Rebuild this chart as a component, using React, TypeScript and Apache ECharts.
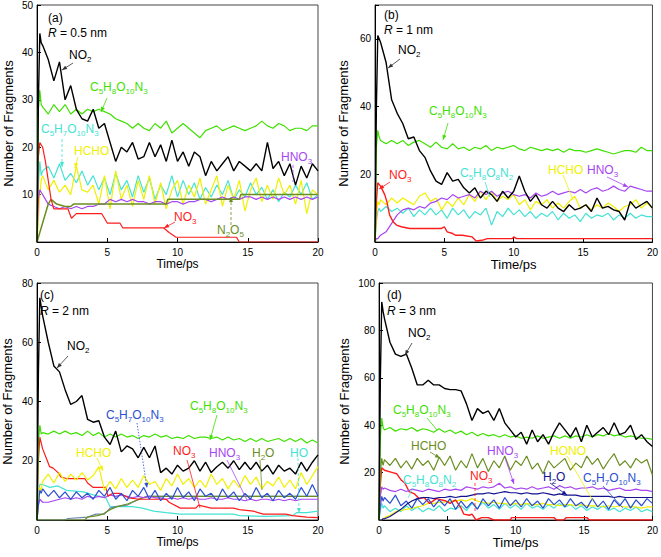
import React, { useEffect, useRef } from 'react';
import * as echarts from 'echarts';

const FF = '"Liberation Sans", Arial, sans-serif';

// shared time grid (ps)
const T = [0, 0.1, 0.2, 0.3, 0.4, 0.8, 1.2, 1.6, 2.0, 2.4, 2.8, 3.2, 3.6, 4.0, 4.4, 4.8, 5.2, 5.6, 6.0, 6.4, 6.8, 7.2, 7.6, 8.0, 8.4, 8.8, 9.2, 9.6, 10.0, 10.4, 10.8, 11.2, 11.6, 12.0, 12.4, 12.8, 13.2, 13.6, 14.0, 14.4, 14.8, 15.2, 15.6, 16.0, 16.4, 16.8, 17.2, 17.6, 18.0, 18.4, 18.8, 19.2, 19.6, 20.0];

const xTicks = [0, 5, 10, 15, 20];

// ---- (a) R = 0.5 nm ----
const a_NO2 = [0, 30, 44, 42, 41.5, 38.5, 34, 38, 30, 33, 28, 26, 25.5, 28, 24, 25, 21, 17, 20, 19, 21, 17.5, 18, 21, 18, 20.5, 17, 21.5, 17, 19, 16, 19, 18, 14, 17, 15, 16.5, 18, 15, 17, 16, 15, 16.5, 15, 21, 15.5, 17, 14, 16.5, 12, 16, 13.5, 16.5, 15];
const a_C5H8O10N3 = [0, 28, 32, 29, 28.5, 27, 29, 27.5, 29, 27, 28, 27, 28, 27.5, 28, 27.5, 27, 26, 25.5, 25, 24, 25, 24, 23.5, 25, 24, 25.5, 23, 24, 25, 24, 23, 22, 23.5, 24, 24.5, 23.5, 24, 24.5, 24, 23.5, 24, 24.5, 25.5, 24.5, 24, 25, 24.5, 23.5, 24, 24, 23.5, 24.5, 24.5];
const a_C5H7O10N3 = [0, 12, 17, 14, 15, 16, 13.5, 16.5, 13, 14.5, 12.5, 15, 12, 14, 11, 13.5, 10, 14.5, 11, 13, 9.5, 14, 10.5, 13.5, 9, 12, 10, 14, 9.5, 13, 10, 12.5, 9, 11.5, 9.5, 12, 10, 13, 9, 11, 9.5, 12.5, 10, 11.5, 9, 11, 8.5, 10.5, 9.5, 12, 10, 12.5, 9, 10];
const a_HCHO = [0, 5, 10, 13, 14, 11, 13, 10.5, 12, 10, 16, 11, 10.5, 12, 8, 14, 7, 15, 9, 12, 7.5, 13, 9, 14, 8, 12.5, 7, 11, 13, 8, 12, 9.5, 13.5, 8, 11, 14, 7.5, 12, 9, 13, 6.5, 11, 13.5, 8.5, 12, 9, 13.5, 10, 12, 8, 13, 6, 11, 10];
const a_HNO3 = [0, 9, 11, 10.5, 10, 8, 7.5, 7, 7.5, 7, 7.5, 7, 7.5, 7.5, 8, 8, 9, 8.5, 9, 8.5, 9, 8.5, 8.5, 8, 8.5, 8.5, 8, 8.5, 8.5, 8, 8.5, 8.5, 9, 9, 8.5, 9, 9.5, 9, 9.5, 9, 9.5, 9.5, 9, 9.5, 9, 9.5, 9, 9.5, 9, 9.5, 9, 9.5, 9, 9.5];
const a_NO3 = [[0, 0], [0.1, 18], [0.2, 21], [0.4, 20], [0.6, 17], [0.8, 13], [1.0, 9], [1.2, 7], [2.2, 7], [2.45, 5], [2.8, 6], [4.6, 6], [5.0, 4], [5.9, 4], [6.1, 3], [9.0, 3], [9.4, 2], [9.9, 1], [14.2, 1], [14.4, 0], [20, 0]];
const a_N2O5 = [[0, 0], [0.2, 2], [0.5, 5], [0.8, 8], [1.0, 9], [1.4, 8], [2.0, 7.5], [2.4, 7.5], [2.6, 8], [9.2, 8], [9.3, 9], [14.4, 9], [14.5, 10], [20, 10]];

// ---- (b) R = 1 nm ----
const b_NO2 = [0, 40, 61, 60, 59, 53, 42, 38, 35, 30.5, 31, 27, 25, 21, 18, 17, 20.5, 18, 18.5, 16, 14.5, 16, 13, 15, 14, 12, 15, 13, 15, 19.5, 15, 12, 14, 11, 10, 12, 10, 9, 11, 9.5, 10, 11, 9, 13, 10, 10.5, 9.5, 9, 6.5, 12, 10, 11, 12, 10];
const b_C5H8O10N3 = [0, 28, 33, 31, 30, 29, 30, 29, 30, 28.5, 29.5, 30, 29, 28, 29.5, 28, 27.5, 29, 27.5, 28, 27, 28, 27.5, 28.5, 27, 28, 27.5, 28, 28.5, 27.5, 27, 28, 27.5, 27, 27.5, 27, 27.5, 26.5, 27.5, 27, 27, 26.5, 27, 27.5, 27, 26.5, 26, 26.5, 27, 27, 26.5, 28, 27, 27];
const b_C5H8O8N2 = [0, 6, 9, 10, 9, 10.5, 9, 10, 8.5, 10, 7.5, 9.5, 8, 10, 8, 9.5, 7, 10, 8, 9.5, 7, 9, 8, 10, 5, 9, 7.5, 10, 8, 9.5, 7.5, 9, 7, 8.5, 7.5, 9, 6.5, 8.5, 7, 8, 6, 8.5, 7, 8, 7.5, 8.5, 6.5, 8, 7, 8.5, 7, 8, 7.5, 7.5];
const b_HCHO = [0, 8, 12, 11, 12.5, 11, 13, 11.5, 13, 12, 11, 13.5, 14.5, 12, 13, 9.5, 12, 10.5, 13, 11, 14, 12, 15, 12.5, 15, 12, 13.5, 12.5, 14, 11, 12.5, 9.5, 12, 11, 12.5, 10, 11.5, 10, 12, 13.5, 10, 11, 9.5, 11, 10, 11.5, 10.5, 9, 10.5, 11, 12.5, 10, 11.5, 10];
const b_HNO3 = [0, 1, 1, 1.5, 2, 3, 5.5, 8, 9.5, 10, 9.5, 10.5, 10, 11.5, 12, 13, 12.5, 14, 13, 13.5, 14, 13, 15, 14, 15, 13.5, 14.5, 15, 14, 13.5, 14, 13, 14.5, 13.5, 14, 15, 14, 14.5, 15, 14.5, 15.5, 14.5, 15.5, 16, 15, 15.5, 16.5, 15.5, 15, 16.5, 16, 15.5, 15, 15];
const b_NO3 = [[0, 0], [0.1, 12], [0.2, 17.5], [0.4, 16.5], [0.7, 14], [0.85, 12], [1.05, 8], [1.3, 6], [1.55, 5], [1.9, 4.5], [2.5, 4], [4.8, 4], [5.0, 4.5], [5.2, 3], [5.6, 2.5], [5.8, 2], [6.3, 2], [7.0, 1.5], [7.3, 0.3], [7.7, 0.5], [8.1, 1], [9.9, 1], [10.0, 1.5], [10.2, 1], [20, 1]];

// ---- (c) R = 2 nm ----
const c_NO2 = [0, 50, 75, 72, 69, 60, 52, 50, 44, 39, 40, 42, 34, 33, 33.5, 28, 25.5, 30, 23, 25, 24, 21, 24.5, 21, 25, 16, 17.5, 15.5, 18.5, 16.5, 17.5, 20, 16.5, 19.5, 16, 18, 19.5, 17.5, 20, 17, 19.5, 17, 19.5, 16.5, 18.5, 15.5, 18.5, 16.5, 17.5, 15.5, 19.5, 16.5, 19.5, 22];
const c_C5H8O10N3 = [0, 26, 32, 29, 29.5, 29, 30, 29, 30, 29, 29.5, 28.5, 30, 28.5, 29.5, 28, 29, 28, 29, 28, 28.5, 27.5, 28.5, 28, 29, 28, 28.5, 27.5, 28, 27.5, 28.5, 27.5, 28, 28, 27.5, 28, 27, 28, 27, 27.5, 26.5, 27.5, 26.5, 27.5, 26.5, 27, 27.5, 26.5, 27.5, 26.5, 27.5, 26, 27, 26];
const c_HCHO = [0, 6, 11, 10, 13, 15.5, 12.5, 16, 13, 15.5, 13.5, 16, 13.5, 15, 18, 10, 13, 10.5, 14, 11, 13.5, 11, 15, 12, 13, 10, 14, 11.5, 15.5, 12, 14, 11, 13.5, 11, 15.5, 12, 14, 10.5, 13.5, 11, 15, 12, 14.5, 10.5, 13, 11.5, 14.5, 11, 13.5, 10.5, 16, 12, 15, 18];
const c_C5H7O10N3 = [0, 5, 10, 9, 10.5, 8, 10, 7.5, 9.5, 7, 9.5, 7.5, 9, 7, 10, 8, 11, 7, 9, 6.5, 10, 8, 11, 7, 10, 6.5, 9, 7, 11, 7.5, 9.5, 6.5, 10.5, 8, 9, 6.5, 10.5, 7.5, 9.5, 6.5, 9, 7, 11, 7.5, 9, 6.5, 10, 7.5, 9, 7, 11, 8, 12, 8];
const c_HNO3 = [0, 5, 7, 6.5, 6, 6, 6.5, 7, 7.5, 7, 7.5, 7, 8, 7.5, 8, 7.5, 8.5, 8, 8.5, 8, 7.5, 8, 7.5, 8, 7.5, 7.5, 7, 7.5, 7, 7.5, 7, 7.5, 7, 7, 7.5, 7, 7, 7.5, 7, 7, 6.5, 7, 6.5, 7, 7, 6.5, 7, 6.5, 7, 6.5, 7, 7, 7, 7];
const c_NO3 = [[0, 0], [0.1, 20], [0.2, 28], [0.4, 24], [0.65, 21], [0.9, 18], [1.15, 17.5], [1.5, 16], [1.7, 14.5], [2.1, 14], [3.4, 14], [3.6, 12.5], [4.0, 11], [4.9, 11], [5.05, 8], [5.4, 9], [5.9, 9], [6.5, 7.5], [7.3, 7], [9.2, 7], [9.4, 6], [10.2, 4], [11.3, 4], [11.5, 5], [12.4, 4], [14.0, 4], [14.4, 3.5], [15.4, 3], [16.1, 2], [17.7, 2], [18.2, 1.5], [19.2, 1], [20, 0.8]];
const c_HO = [[0, 0], [0.1, 8], [0.2, 12], [0.4, 12], [0.9, 11], [1.5, 11.5], [2.1, 10], [3.3, 9.5], [4.0, 8.5], [4.9, 7.5], [5.2, 4.5], [6.8, 4.5], [7.5, 4], [8.3, 3], [9.2, 2.5], [10.2, 2], [14.0, 2], [14.4, 1.5], [16.3, 1.2], [18.2, 1.5], [18.5, 2.5], [19.2, 2.5], [20, 3]];
const c_H2O = [[0, 0], [3.4, 0], [3.6, 1], [4.3, 1.5], [4.7, 2], [5.2, 3.5], [5.7, 4.5], [6.5, 5.5], [7.0, 6.5], [7.5, 7.5], [8.0, 8], [20, 8]];
const c_unlabeled = [[0, 0], [2.0, 0], [2.2, 0.5], [3.6, 1], [4.2, 2], [4.8, 2], [5.2, 4], [5.6, 4.5], [6.4, 5], [6.8, 6], [7.3, 7], [7.8, 8], [20, 8]];

// ---- (d) R = 3 nm ----
const d_NO2 = [0, 60, 92, 88, 85, 75, 70, 69, 70, 64, 57, 57, 59, 57, 57, 55.5, 55, 55, 54.5, 49, 42, 47, 45, 46, 42, 47, 41, 38, 35, 37, 32, 38, 33, 36, 32, 37, 41, 38, 35, 39, 33, 40, 35, 37, 39, 36, 41, 36, 37, 40, 34, 36, 33, 31];
const d_C5H8O10N3 = [0, 35, 43, 39, 38, 39, 37.5, 38.5, 38, 39, 37.5, 38.5, 38, 37, 38.5, 37, 38, 36.5, 37.5, 36, 37, 35.5, 36.5, 35.5, 36, 35, 36, 35, 35.5, 34.5, 35, 34.5, 35.5, 34.5, 35, 35.5, 34.5, 35.5, 34.5, 35.5, 35, 36, 35, 36, 35.5, 36.5, 35.5, 36, 35, 35.5, 35, 34.5, 34.5, 34];
const d_HCHO = [0, 20, 26, 23, 25.5, 23, 26, 22, 25, 21.5, 26, 23, 25, 21, 26.5, 23, 27, 21, 25, 22, 28, 22, 26, 20.5, 25, 22, 27, 21, 25, 23, 27, 21.5, 24, 19.5, 25, 22, 24, 26, 21, 24, 22, 27, 23.5, 26, 21.5, 25, 28, 23, 25, 22, 26, 24, 25.5, 19];
const d_HNO3 = [0, 10, 14, 13, 13.5, 12.5, 12, 13, 12, 13, 12.5, 12, 13, 12.5, 12, 13, 12.5, 13, 12.5, 14, 13.5, 13, 14, 13.5, 14, 15.5, 13.5, 14, 13, 13.5, 13, 14, 13, 13.5, 14, 13, 14.5, 13.5, 14, 13, 13.5, 13.5, 14, 13, 13.5, 12.5, 13, 13.5, 12.5, 12.5, 13, 12.5, 12.5, 12];
const d_C5H8O8N2 = [0, 4, 7, 5, 6, 3.5, 5, 3.5, 6, 4, 5.5, 3.5, 5, 4, 6, 3.5, 5, 4.5, 6, 4, 7, 5, 7.5, 5, 6.5, 4.5, 7, 5, 6.5, 4.5, 7, 5, 6, 4.5, 6.5, 5, 7, 5.5, 6.5, 4.5, 6, 4, 5.5, 4.5, 6, 4, 5, 3.5, 5, 4, 5.5, 3.5, 4.5, 3.5];
const d_H2O = [0, 0, 0, 0.5, 0.5, 1.5, 3, 4.5, 6.5, 8, 9, 9.5, 9.5, 9, 9.5, 9.5, 10, 9.5, 10, 10, 10.5, 11, 11, 11.5, 11, 11.5, 12, 11.5, 11.5, 11, 11.5, 11, 11, 11.5, 11, 10.5, 11, 10.5, 10.5, 10.5, 10, 10, 10, 10, 10, 10, 9.5, 10, 9.5, 9.5, 9.5, 9.5, 9.5, 9.5];
const d_C5H7O10N3 = [0, 6, 10, 8, 9.5, 7, 10.5, 6, 8, 5, 9, 6.5, 9, 5.5, 8.5, 6, 9, 4.5, 8, 5, 7.5, 4.5, 9, 6, 8.5, 5, 9.5, 6, 8.5, 5.5, 9, 6, 8, 5, 9, 6.5, 8.5, 5.5, 9, 6, 7.5, 5, 9, 5.5, 8, 4.5, 8.5, 6, 9, 5, 8.5, 6, 9, 7];
const d_HONO = [0, 0, 0, 0.5, 1, 2, 3.5, 4, 4.5, 5, 5.5, 6, 7, 7, 7.5, 7.5, 8, 8, 8.5, 8, 9, 8, 7.5, 7, 7.5, 7, 7, 6.5, 7, 6.5, 7, 6.5, 6.5, 7, 6.5, 6.5, 6, 6.5, 6.5, 6, 6.5, 6, 6, 6, 5.5, 6, 5.5, 6, 5.5, 5.5, 5.5, 5, 5.5, 5.5];
const d_NO3 = [[0, 0], [0.1, 15], [0.2, 22], [0.4, 21], [1.0, 20], [1.3, 19.5], [1.6, 17], [1.9, 15.5], [2.2, 12], [2.6, 11], [2.95, 9], [3.3, 9.5], [3.7, 7], [4.2, 9], [4.9, 8], [5.2, 7], [5.6, 8.5], [6.0, 5], [6.2, 2.5], [6.6, 2], [6.8, 2.5], [7.1, 0], [7.5, 1], [8.0, 1], [8.4, 0], [9.6, 0], [9.7, 1], [12.8, 1], [13.0, 0], [13.5, 0], [13.7, 1], [15.2, 1], [15.4, 0], [20, 0]];

const yMax = [50, 70, 80, 100];
const yInterval = [10, 20, 20, 20];

const C = {
  black: '#000000',
  green: '#3fe000',
  cyan: '#44e3d4',
  yellow: '#f0f000',
  purple: '#a845f2',
  red: '#ff1c1c',
  olive: '#6b8e23',
  blue: '#2a4fd0',
  navy: '#12128f',
  slate: '#6a86a8',
};

const GRIDS = [
  { left: 37, top: 5, width: 281, height: 237 },
  { left: 375, top: 5, width: 280, height: 237 },
  { left: 37, top: 283, width: 281, height: 237 },
  { left: 379, top: 283, width: 276, height: 237 },
];
const yNameGap = [22, 25, 23, 28];
const nameSize = [12, 13, 12, 13];

function onT(vals: number[]) {
  return T.map((t, i) => [t, vals[i]]);
}
function ser(g: number, name: string, data: any[], color: string, width = 1.2) {
  return {
    type: 'line', name, xAxisIndex: g, yAxisIndex: g, data, showSymbol: false, symbol: 'none',
    silent: true, lineStyle: { color, width }, itemStyle: { color },
  };
}

const RICH: any = {
  s: { fontSize: 8, lineHeight: 8, verticalAlign: 'bottom', fontFamily: FF },
  i: { fontSize: 12, lineHeight: 16, fontStyle: 'italic', fontFamily: FF },
};
function lbl(x: number, y: number, text: string, fill: string) {
  return { type: 'text', x, y, z: 100, silent: true, style: { text, fill, fontSize: 12, fontFamily: FF, lineHeight: 16, rich: RICH } };
}
function arrow(x1: number, y1: number, x2: number, y2: number, color: string, dash?: number[], head = true) {
  const els: any[] = [{ type: 'line', z: 100, silent: true, shape: { x1, y1, x2, y2 }, style: { stroke: color, lineWidth: 0.8, lineDash: dash } }];
  if (head) {
    const a = Math.atan2(y2 - y1, x2 - x1);
    const L = 5, W = 2;
    const bx = x2 - L * Math.cos(a), by = y2 - L * Math.sin(a);
    els.push({ type: 'polygon', z: 100, silent: true, shape: { points: [[x2, y2], [bx - W * Math.sin(a), by + W * Math.cos(a)], [bx + W * Math.sin(a), by - W * Math.cos(a)]] }, style: { fill: color } });
  }
  return els;
}

const F1 = 'C{s|5}H{s|8}O{s|10}N{s|3}';
const F2 = 'C{s|5}H{s|7}O{s|10}N{s|3}';
const F3 = 'C{s|5}H{s|8}O{s|8}N{s|2}';
const DASH = [3, 2];

const graphics: any[] = [
  // (a)
  lbl(48, 10, '(a)', '#000'), lbl(48, 25, '{i|R} = 0.5 nm', '#000'),
  lbl(69, 47, 'NO{s|2}', '#000'), ...arrow(73, 63, 62, 70, '#333'),
  lbl(90, 79, F1, C.green), ...arrow(107, 98, 101, 112, C.green),
  lbl(41, 121, F2, C.cyan), ...arrow(62, 139, 62, 167, C.cyan, DASH),
  lbl(74, 143, 'HCHO', C.yellow), ...arrow(78, 157, 75, 168, C.yellow),
  lbl(281, 149, 'HNO{s|3}', C.purple), ...arrow(293, 165, 293, 182, C.purple, DASH, false),
  lbl(174, 209, 'NO{s|3}', C.red), ...arrow(175, 222, 164, 228, C.red),
  lbl(217, 222, 'N{s|2}O{s|5}', C.olive), ...arrow(231, 225, 231, 197, C.olive, DASH),
  // (b)
  lbl(384, 7, '(b)', '#000'), lbl(384, 22, '{i|R} = 1 nm', '#000'),
  lbl(398, 42, 'NO{s|2}', '#000'), ...arrow(400, 59, 388, 68, '#333'),
  lbl(429, 103, F1, C.green), ...arrow(448, 123, 443, 140, C.green),
  lbl(460, 165, F3, C.cyan), ...arrow(485, 182, 490, 197, C.cyan, undefined, false),
  lbl(389, 167, 'NO{s|3}', C.red), ...arrow(390, 182, 379, 189, C.red),
  lbl(548, 162, 'HCHO', C.yellow), ...arrow(563, 175, 573, 200, C.yellow, undefined, false),
  lbl(587, 162, 'HNO{s|3}', C.purple), ...arrow(607, 177, 628, 187, C.purple),
  // (c)
  lbl(40, 287, '(c)', '#000'), lbl(40, 303, '{i|R} = 2 nm', '#000'),
  lbl(67, 338, 'NO{s|2}', '#000'), ...arrow(68, 356, 57, 368, '#333'),
  lbl(190, 398, F1, C.green), ...arrow(217, 415, 210, 440, C.green),
  lbl(106, 407, F2, C.blue), ...arrow(137, 423, 147, 488, C.blue, [1.5, 1.5]),
  lbl(76, 445, 'HCHO', C.yellow), ...arrow(97, 458, 103, 471, C.yellow),
  lbl(173, 443, 'NO{s|3}', C.red), ...arrow(187, 460, 200, 508, C.red, undefined, false),
  lbl(209, 445, 'HNO{s|3}', C.purple), ...arrow(227, 460, 247, 500, C.purple, undefined, false),
  lbl(252, 445, 'H{s|2}O', C.olive), ...arrow(260, 460, 262, 490, C.olive, undefined, false),
  lbl(290, 445, 'HO', C.cyan), ...arrow(298, 458, 299, 513, C.cyan, DASH),
  // (d)
  lbl(387, 287, '(d)', '#000'), lbl(387, 303, '{i|R} = 3 nm', '#000'),
  lbl(408, 325, 'NO{s|2}', '#000'), ...arrow(412, 343, 405, 355, '#333'),
  lbl(393, 402, F1, C.green), ...arrow(427, 418, 437, 430, C.green, undefined, false),
  lbl(411, 438, 'HCHO', C.olive), ...arrow(430, 452, 440, 458, C.olive),
  lbl(487, 443, 'HNO{s|3}', C.purple), ...arrow(505, 458, 514, 484, C.purple),
  lbl(550, 443, 'HONO', C.yellow), ...arrow(567, 456, 593, 501, C.yellow, undefined, false),
  lbl(470, 468, 'NO{s|3}', C.red), ...arrow(475, 483, 475, 511, C.red, DASH, false),
  lbl(403, 472, F3, C.cyan), ...arrow(413, 488, 408, 498, C.cyan, undefined, false),
  lbl(543, 469, 'H{s|2}O', C.navy), ...arrow(550, 483, 567, 495, C.navy),
  lbl(583, 470, F2, C.blue), ...arrow(603, 486, 623, 508, C.blue, undefined, false),
];

const series = [
  ser(0, 'C5H7O10N3', onT(a_C5H7O10N3), C.cyan),
  ser(0, 'HCHO', onT(a_HCHO), C.yellow),
  ser(0, 'HNO3', onT(a_HNO3), C.purple),
  ser(0, 'N2O5', a_N2O5, C.olive, 1.5),
  ser(0, 'NO3', a_NO3, C.red),
  ser(0, 'C5H8O10N3', onT(a_C5H8O10N3), C.green),
  ser(0, 'NO2', onT(a_NO2), C.black, 1.4),

  ser(1, 'C5H8O8N2', onT(b_C5H8O8N2), C.cyan),
  ser(1, 'HCHO', onT(b_HCHO), C.yellow),
  ser(1, 'HNO3', onT(b_HNO3), C.purple),
  ser(1, 'NO3', b_NO3, C.red, 1.4),
  ser(1, 'C5H8O10N3', onT(b_C5H8O10N3), C.green),
  ser(1, 'NO2', onT(b_NO2), C.black, 1.4),

  ser(2, 'HO', c_HO, C.cyan),
  ser(2, 'unlabeled', c_unlabeled, C.slate),
  ser(2, 'H2O', c_H2O, C.olive),
  ser(2, 'HNO3', onT(c_HNO3), C.purple),
  ser(2, 'NO3', c_NO3, C.red),
  ser(2, 'HCHO', onT(c_HCHO), C.yellow),
  ser(2, 'C5H7O10N3', onT(c_C5H7O10N3), C.blue),
  ser(2, 'C5H8O10N3', onT(c_C5H8O10N3), C.green),
  ser(2, 'NO2', onT(c_NO2), C.black, 1.4),

  ser(3, 'C5H8O8N2', onT(d_C5H8O8N2), C.cyan),
  ser(3, 'HONO', onT(d_HONO), C.yellow),
  ser(3, 'NO3', d_NO3, C.red, 1.4),
  ser(3, 'C5H7O10N3', onT(d_C5H7O10N3), C.blue),
  ser(3, 'H2O', onT(d_H2O), C.navy),
  ser(3, 'HNO3', onT(d_HNO3), C.purple),
  ser(3, 'HCHO', onT(d_HCHO), C.olive),
  ser(3, 'C5H8O10N3', onT(d_C5H8O10N3), C.green),
  ser(3, 'NO2', onT(d_NO2), C.black, 1.4),
];

const option: any = {
  animation: false,
  backgroundColor: '#fff',
  grid: GRIDS.map((g) => ({ ...g, show: true, borderColor: '#444', borderWidth: 1, backgroundColor: 'transparent' })),
  xAxis: GRIDS.map((_, i) => ({
    type: 'value', gridIndex: i, min: xTicks[0], max: xTicks[xTicks.length - 1], interval: 5,
    name: 'Time/ps', nameLocation: 'middle', nameGap: 15,
    nameTextStyle: { fontSize: nameSize[i], fontFamily: FF, color: '#000' },
    axisLine: { show: true, onZero: false, lineStyle: { color: '#000', width: 1 } },
    axisTick: { show: true, inside: true, length: 4, lineStyle: { color: '#000' } },
    axisLabel: { fontSize: 10, fontFamily: FF, color: '#000', margin: 5 },
    splitLine: { show: false },
  })),
  yAxis: GRIDS.map((_, i) => ({
    type: 'value', gridIndex: i, min: 0, max: yMax[i], interval: yInterval[i],
    name: 'Number of Fragments', nameLocation: 'middle', nameGap: yNameGap[i],
    nameTextStyle: { fontSize: 13, fontFamily: FF, color: '#000' },
    axisLine: { show: true, onZero: false, lineStyle: { color: '#000', width: 1 } },
    axisTick: { show: true, inside: true, length: 4, lineStyle: { color: '#000' } },
    axisLabel: {
      fontSize: 10, fontFamily: FF, color: '#000', margin: 4,
      formatter: (v: number) => (v === 0 || v % yInterval[i] !== 0 ? '' : String(v)),
    },
    splitLine: { show: false },
  })),
  series,
  graphic: { elements: graphics },
};

export default function App() {
  const ref = useRef<HTMLDivElement>(null);
  useEffect(() => {
    const chart = echarts.init(ref.current as HTMLDivElement, null, { renderer: 'svg' });
    chart.setOption(option);
    return () => chart.dispose();
  }, []);
  return (
    <div
      ref={ref}
      style={{ position: 'absolute', left: 0, top: 0, width: 661, height: 557, background: '#fff' }}
    />
  );
}
